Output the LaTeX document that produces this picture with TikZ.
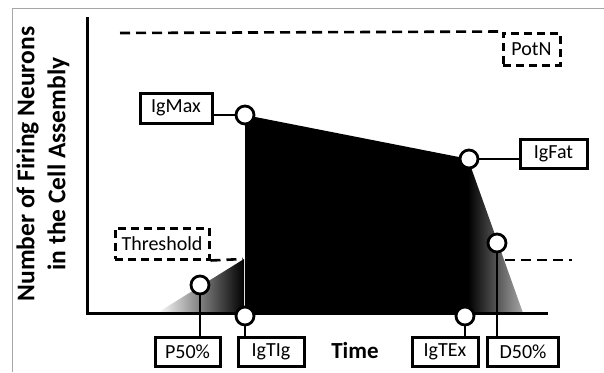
\documentclass[tikz,border=0pt]{standalone}
\usepackage{fontspec}
\setmainfont{Carlito}
\begin{document}
\begin{tikzpicture}[x=1pt,y=-1pt,
  box/.style={draw, line width=3pt, fill=white, minimum height=29pt, inner sep=1pt, font=\fontsize{20}{22}\selectfont},
  dbox/.style={box, dash pattern=on 8pt off 5pt},
  dot/.style={circle, draw, line width=2.8pt, fill=white, minimum size=18pt, inner sep=0pt},
  lnk/.style={line width=1.8pt},
  dline/.style={line width=2.6pt, dash pattern=on 10pt off 6pt}]
\useasboundingbox (0,0) rectangle (604,372);
\draw[gray!70, line width=1pt] (12,372) -- (12,8) -- (604,8);
% shaded flanks
\shade[left color=white, right color=black] (157,313) -- (244,259) -- (244,313) -- cycle;
\shade[left color=black, right color=black!35] (468,159) -- (523,313) -- (468,313) -- cycle;
% main block
\fill[black] (245,115) -- (469,159) -- (469,313) -- (245,313) -- cycle;
% axes
\draw[line width=3pt] (87,17) -- (87,313) -- (548,313);
% y label
\node[rotate=90, align=center, font=\bfseries\fontsize{25.5}{31}\selectfont] (ylab) at (43,164) {Number of Firing Neurons\\in the Cell Assembly};
\node[font=\bfseries\fontsize{23}{25}\selectfont] (time) at (355,351) {Time};
% boxes
\node[dbox, minimum width=57pt, minimum height=32pt] (potn) at (531.5,49) {PotN};
\node[dbox, minimum width=94pt, minimum height=31pt] (thr) at (162,243.5) {Threshold};
\node[box, minimum width=72pt, minimum height=30pt] (max) at (176,108) {IgMax};
\node[box, minimum width=67pt] (fat) at (553.5,154) {IgFat};
\node[box, minimum width=65pt] (p50) at (187.5,352) {P50\%};
\node[box, minimum width=66pt] (tig) at (271,352) {IgTIg};
\node[box, minimum width=66pt] (tex) at (445,352) {IgTEx};
\node[box, minimum width=71pt] (d50) at (523,352) {D50\%};
% dashed lines
\coordinate (topstart) at (120,33);
\coordinate (thrend) at (243,259);
\coordinate (t2a) at (505,260);
\coordinate (t2b) at (572,260);
\draw[dline] (topstart) -- (potn.north west);
\draw[dline] (thr.south east) -- (thrend);
\draw[dline] (t2a) -- (t2b);
% circles
\node[dot] (cmax) at (245,115) {};
\node[dot] (cfat) at (469,159) {};
\node[dot] (cp50) at (200,285) {};
\node[dot] (ctig) at (245,316) {};
\node[dot] (ctex) at (465,316) {};
\node[dot] (cd50) at (497,243) {};
% connectors
\draw[lnk] (cmax) -- (cmax -| max.east);
\draw[lnk] (cfat) -- (cfat -| fat.west);
\draw[lnk] (cp50) -- (cp50 |- p50.north);
\draw[lnk] (ctig) -- (ctig |- tig.north);
\draw[lnk] (ctex) -- (ctex |- tex.north);
\draw[lnk] (cd50) -- (cd50 |- d50.north);
\end{tikzpicture}
\end{document}
